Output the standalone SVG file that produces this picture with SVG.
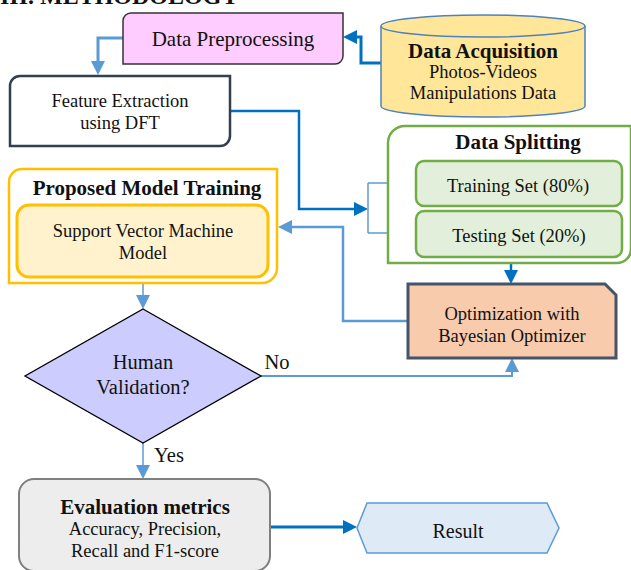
<svg xmlns="http://www.w3.org/2000/svg" width="631" height="570" viewBox="0 0 631 570">
  <style>
    text { font-family: "Liberation Serif", "Times New Roman", serif; fill: #111; text-anchor: middle; }
    .n { font-size: 18.5px; }
    .b { font-size: 21px; font-weight: bold; }
    .q { font-size: 20.5px; }
    .lt { fill: none; stroke: #5B9BD5; }
    .dk { fill: none; stroke: #0070C0; }
  </style>
  <defs>
    <marker id="arrL" viewBox="0 0 14 14" refX="0" refY="7" markerWidth="14" markerHeight="14" markerUnits="userSpaceOnUse" orient="auto">
      <path d="M0,0 L14,7 L0,14 z" fill="#5B9BD5"/>
    </marker>
    <marker id="arrD" viewBox="0 0 14 14" refX="0" refY="7" markerWidth="14" markerHeight="14" markerUnits="userSpaceOnUse" orient="auto">
      <path d="M0,0 L14,7 L0,14 z" fill="#0070C0"/>
    </marker>
  </defs>

  <rect width="631" height="570" fill="#ffffff"/>

  <!-- section heading, cut by the top edge -->
  <text x="0" y="4" style="font-size:24px;font-weight:bold;text-anchor:start">III. METHODOLOGY</text>

  <!-- connectors -->
  <g id="connectors">
    <path class="dk" stroke-width="3" d="M381,63 H361 V37 H357" marker-end="url(#arrD)"/>
    <path class="lt" stroke-width="3" d="M123,38 H98 V61" marker-end="url(#arrL)"/>
    <path class="dk" stroke-width="2.5" d="M230,111 H299 V209 H354" marker-end="url(#arrD)"/>
    <path class="lt" stroke-width="1.5" d="M368,183 V233"/>
    <path class="lt" stroke-width="1.5" d="M368,183 H401" marker-end="url(#arrL)"/>
    <path class="lt" stroke-width="1.5" d="M368,233 H401" marker-end="url(#arrL)"/>
    <path class="dk" stroke-width="2.5" d="M511,264 V270" marker-end="url(#arrD)"/>
    <path class="lt" stroke-width="2.5" d="M408,321 H343 V227 H292" marker-end="url(#arrL)"/>
    <path class="lt" stroke-width="1.5" d="M143,284 V295" marker-end="url(#arrL)"/>
    <path class="lt" stroke-width="2" d="M261,376 H512 V372" marker-end="url(#arrL)"/>
    <path class="lt" stroke-width="1.5" d="M143,443 V465" marker-end="url(#arrL)"/>
    <path class="dk" stroke-width="3" d="M271,527 H343" marker-end="url(#arrD)"/>
    <text x="277" y="369" class="q">No</text>
    <text x="169" y="462" class="q">Yes</text>
  </g>

  <!-- data source cylinder -->
  <g id="data-acquisition">
    <path d="M381,26 V106 A102,11 0 0 0 585,106 V26" fill="#FFE699" stroke="#4F81BD" stroke-width="1.5"/>
    <ellipse cx="483" cy="26" rx="102" ry="11" fill="#FFE699" stroke="#4F81BD" stroke-width="1.5"/>
    <text x="483" y="58" class="b">Data Acquisition</text>
    <text x="483" y="78" class="n">Photos-Videos</text>
    <text x="483" y="99" class="n">Manipulations Data</text>
  </g>

  <g id="data-preprocessing">
    <path d="M131,13 H343 V56 A8,8 0 0 1 335,64 H123 V21 A8,8 0 0 1 131,13 Z" fill="#FFCCFF" stroke="#333" stroke-width="1.5"/>
    <text x="233" y="46" style="font-size:21px">Data Preprocessing</text>
  </g>

  <g id="feature-extraction">
    <path d="M20,76 H230 V136 A10,10 0 0 1 220,146 H10 V86 A10,10 0 0 1 20,76 Z" fill="#fff" stroke="#333F50" stroke-width="2.5"/>
    <text x="120" y="107" class="n">Feature Extraction</text>
    <text x="120" y="129" class="n">using DFT</text>
  </g>

  <g id="data-splitting">
    <path d="M388,263 V143 A17,17 0 0 1 405,126 H631 V249 A14,14 0 0 1 617,263 Z" fill="#fff" stroke="#70AD47" stroke-width="2.5"/>
    <text x="518" y="149" class="b">Data Splitting</text>
    <g id="training-set">
      <rect x="416" y="161" width="206" height="45" rx="8" fill="#E2EFDA" stroke="#70AD47" stroke-width="2.5"/>
      <text x="518" y="192" class="n">Training Set (80%)</text>
    </g>
    <g id="testing-set">
      <rect x="416" y="211" width="206" height="46" rx="8" fill="#E2EFDA" stroke="#70AD47" stroke-width="2.5"/>
      <text x="519" y="242" class="n">Testing Set (20%)</text>
    </g>
  </g>

  <g id="optimization">
    <path d="M408,284 H605 L616,295 V358 H408 Z" fill="#F8CBAD" stroke="#44546A" stroke-width="3"/>
    <text x="512" y="320" class="n">Optimization with</text>
    <text x="512" y="342" class="n">Bayesian Optimizer</text>
  </g>

  <g id="model-training">
    <path d="M22,169 H277 V268 A15,15 0 0 1 262,283 H9 V182 A13,13 0 0 1 22,169 Z" fill="#fff" stroke="#FFC000" stroke-width="2.5"/>
    <text x="147" y="195" class="b">Proposed Model Training</text>
    <g id="svm">
      <rect x="17" y="205" width="251" height="72" rx="12" fill="#FFF2CC" stroke="#FFC000" stroke-width="3"/>
      <text x="143" y="237" class="n">Support Vector Machine</text>
      <text x="143" y="259" class="n">Model</text>
    </g>
  </g>

  <g id="human-validation">
    <path d="M143,309 L261,376 L143,443 L25,376 Z" fill="#CCCCFF" stroke="#000" stroke-width="1.3"/>
    <text x="143" y="369" class="q">Human</text>
    <text x="143" y="394" class="q">Validation?</text>
  </g>

  <g id="evaluation">
    <rect x="19" y="479" width="251" height="92" rx="15" fill="#EDEDED" stroke="#7F7F7F" stroke-width="2"/>
    <text x="145" y="514" class="b">Evaluation metrics</text>
    <text x="145" y="535" class="n">Accuracy, Precision,</text>
    <text x="145" y="557" class="n">Recall and F1-score</text>
  </g>

  <g id="result">
    <path d="M357,528 L367,503 H547 L559,528 L547,553 H367 Z" fill="#DEEBF7" stroke="#5B9BD5" stroke-width="1.5"/>
    <text x="458" y="538" style="font-size:20px">Result</text>
  </g>
</svg>
